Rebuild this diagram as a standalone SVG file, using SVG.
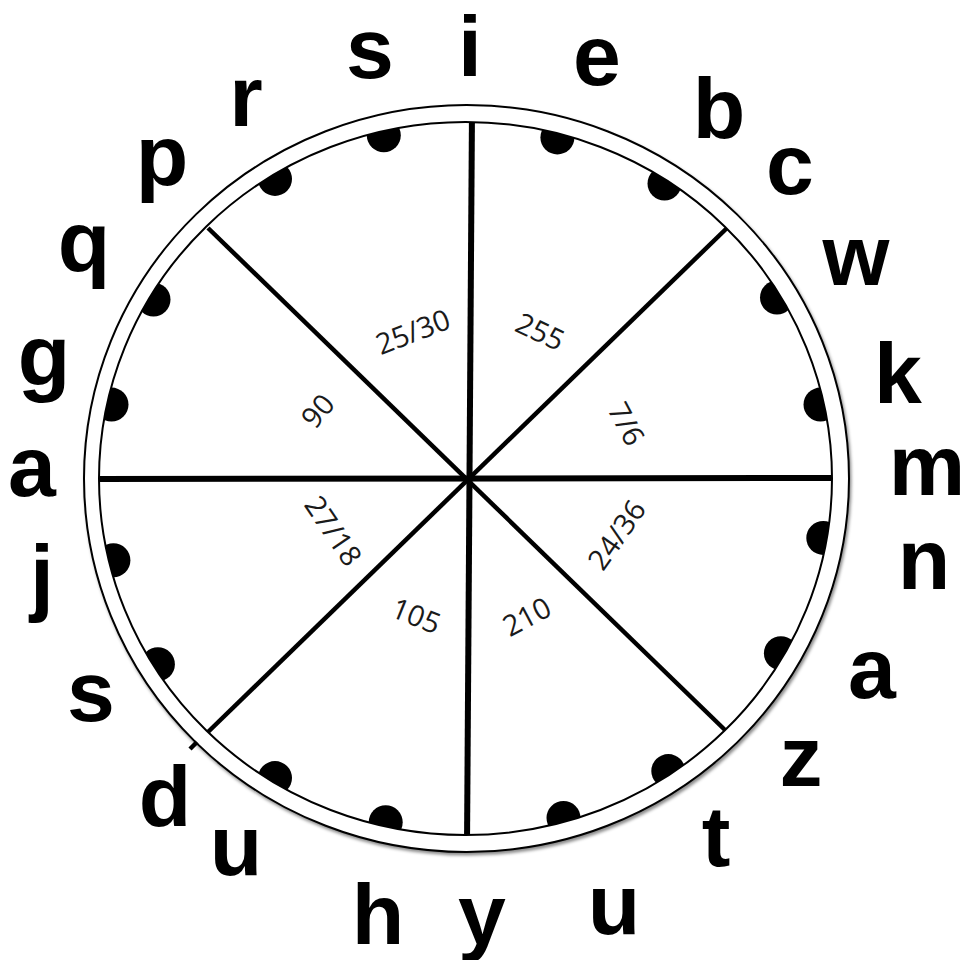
<svg xmlns="http://www.w3.org/2000/svg" width="961" height="960" viewBox="0 0 961 960">
  <defs>
    <filter id="shadow" x="-10%" y="-10%" width="120%" height="120%">
      <feDropShadow dx="1.5" dy="2.5" stdDeviation="1.8" flood-color="#000" flood-opacity="0.45"/>
    </filter>
    <clipPath id="inner">
      <ellipse cx="465.5" cy="478.5" rx="366.5" ry="356.5"/>
    </clipPath>
  </defs>
  <style>
    .letter { font-family: "Liberation Sans", Arial, sans-serif; font-weight: bold; font-size: 86px; fill: #000; text-anchor: middle; }
    .num { font-family: "Open Sans", "Liberation Sans", sans-serif; font-size: 29px; fill: #1a1a1a; text-anchor: middle; }
    .ring { fill: #fff; stroke: #000; stroke-width: 2; }
    .spoke { stroke: #000; stroke-linecap: butt; }
    .main { stroke-width: 6; }
    .diag { stroke-width: 4.5; }
    .dot { fill: #000; }
  </style>

  <rect width="961" height="960" fill="#fff"/>

  <g id="wheel">
    <ellipse class="ring" cx="466.5" cy="478.5" rx="382.5" ry="373.5" filter="url(#shadow)"/>
    <ellipse cx="465.5" cy="478.5" rx="366.5" ry="356.5" fill="#fff"/>
    <g id="dots" clip-path="url(#inner)">
      <circle class="dot" cx="383.8" cy="135.2" r="17"/>
      <circle class="dot" cx="275.0" cy="178.9" r="17"/>
      <circle class="dot" cx="153.5" cy="299.6" r="17"/>
      <circle class="dot" cx="111.5" cy="404.6" r="17"/>
      <circle class="dot" cx="113.4" cy="560.2" r="17"/>
      <circle class="dot" cx="157.9" cy="664.3" r="17"/>
      <circle class="dot" cx="275.0" cy="778.1" r="17"/>
      <circle class="dot" cx="385.7" cy="822.2" r="17"/>
      <circle class="dot" cx="563.5" cy="818.0" r="17"/>
      <circle class="dot" cx="668.3" cy="771.1" r="17"/>
      <circle class="dot" cx="780.9" cy="653.2" r="17"/>
      <circle class="dot" cx="823.3" cy="537.9" r="17"/>
      <circle class="dot" cx="820.5" cy="404.6" r="17"/>
      <circle class="dot" cx="777.0" cy="297.5" r="17"/>
      <circle class="dot" cx="664.5" cy="183.5" r="17"/>
      <circle class="dot" cx="557.4" cy="137.4" r="17"/>
    </g>
    <g id="connectors" clip-path="url(#inner)">
      <line class="spoke main" x1="472" y1="110" x2="467" y2="845"/>
      <line class="spoke main" x1="90" y1="479" x2="845" y2="478"/>
      <line class="spoke diag" x1="208" y1="228" x2="725" y2="730"/>
      <line class="spoke diag" x1="727" y1="228" x2="208" y2="732"/>
    </g>
    <ellipse cx="465.5" cy="478.5" rx="366.5" ry="356.5" fill="none" stroke="#000" stroke-width="2"/>
    <line class="spoke diag" x1="197" y1="742" x2="190" y2="749"/>
  </g>

  <g id="numbers">
    <text class="num" transform="translate(413,332) rotate(-21)" y="10">25/30</text>
    <text class="num" transform="translate(318,411) rotate(-50)" y="10">90</text>
    <text class="num" transform="translate(540,332) rotate(25)" y="10">255</text>
    <text class="num" transform="translate(626,424) rotate(62)" y="10">7/6</text>
    <text class="num" transform="translate(333,531) rotate(56)" y="10">27/18</text>
    <text class="num" transform="translate(416,616) rotate(22)" y="10">105</text>
    <text class="num" transform="translate(527,617) rotate(-28)" y="10">210</text>
    <text class="num" transform="translate(617,535) rotate(-55)" y="10">24/36</text>
  </g>

  <g id="letters">
    <text class="letter" x="370" y="78">s</text>
    <text class="letter" x="470" y="76">i</text>
    <text class="letter" x="597" y="85">e</text>
    <text class="letter" x="719" y="138">b</text>
    <text class="letter" x="790" y="194">c</text>
    <text class="letter" x="856" y="285">w</text>
    <text class="letter" x="898" y="403">k</text>
    <text class="letter" x="927" y="495">m</text>
    <text class="letter" x="924" y="589">n</text>
    <text class="letter" x="872" y="698">a</text>
    <text class="letter" x="801" y="786">z</text>
    <text class="letter" x="716" y="866">t</text>
    <text class="letter" x="614" y="934">u</text>
    <text class="letter" x="482" y="944">y</text>
    <text class="letter" x="378" y="944">h</text>
    <text class="letter" x="236" y="875">u</text>
    <text class="letter" x="165" y="826">d</text>
    <text class="letter" x="91" y="721">s</text>
    <text class="letter" x="42" y="605">j</text>
    <text class="letter" x="32" y="496">a</text>
    <text class="letter" x="44" y="385">g</text>
    <text class="letter" x="84" y="271">q</text>
    <text class="letter" x="162" y="185">p</text>
    <text class="letter" x="246" y="126">r</text>
  </g>
</svg>
